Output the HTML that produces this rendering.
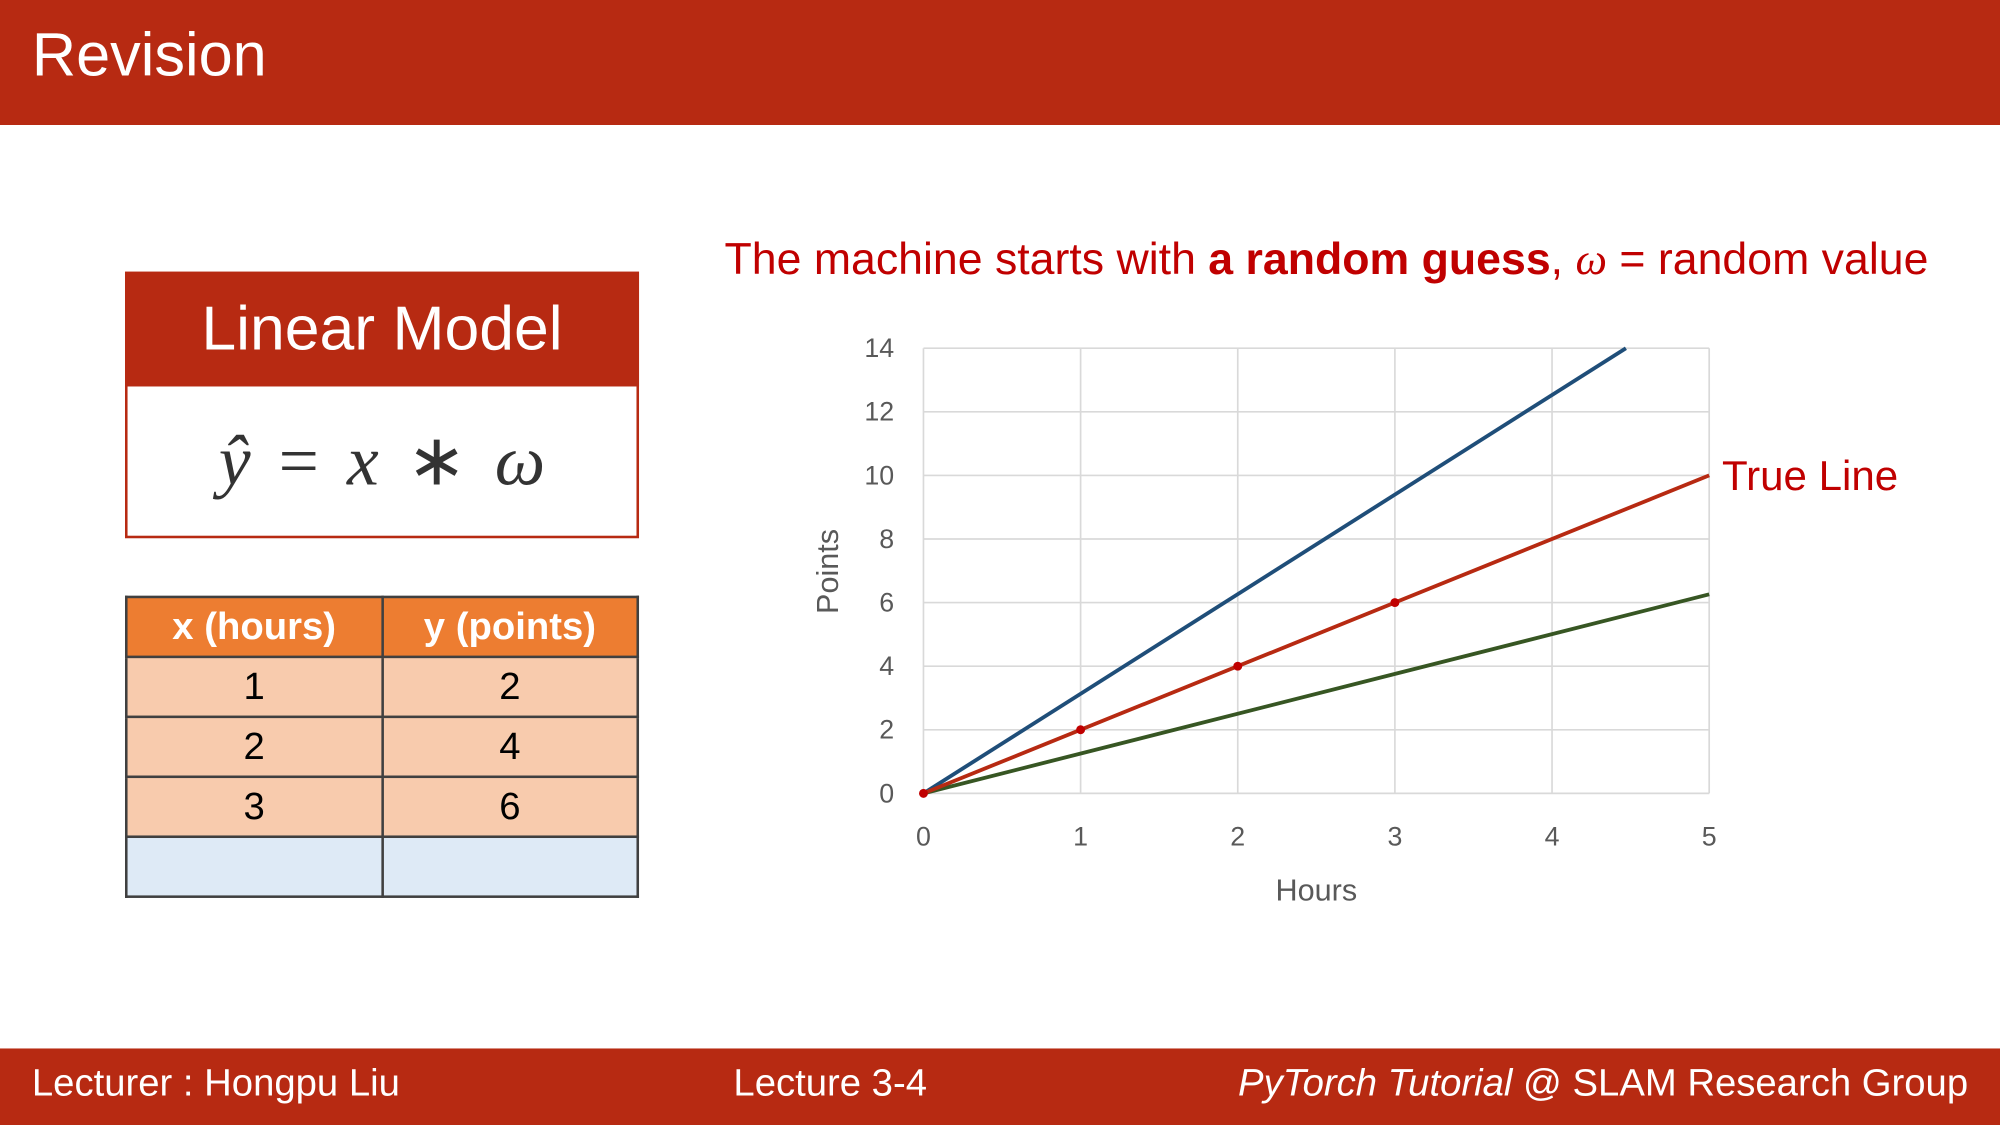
<!DOCTYPE html>
<html><head><meta charset="utf-8"><style>
html,body{margin:0;padding:0;width:2000px;height:1125px;overflow:hidden;background:#fff}
#wrap{position:absolute;left:0;top:0;width:1568px;height:882px;transform:scale(1.27551);transform-origin:0 0;font-family:"Liberation Sans",sans-serif}
.abs{position:absolute}
</style></head><body>
<div id="wrap">
<div class="abs" style="left:0;top:0;width:1568px;height:98px;background:#B72A12"></div>
<div class="abs" style="left:25px;top:16px;color:#fff;font-size:48px">Revision</div>

<div class="abs" style="left:98px;top:213px;width:399px;height:205px;border:2px solid #B72A12;background:#fff"></div>
<div class="abs" style="left:98px;top:213px;width:403px;height:90px;background:#B72A12;color:#fff;font-size:49px;text-align:center;line-height:90px">Linear Model</div>
<div class="abs" style="left:98px;top:303px;width:403px;height:118px;text-align:center;line-height:118px;font-family:'Liberation Serif',serif;font-style:italic;font-size:56px;color:#333;word-spacing:8px">ŷ <span style="font-style:normal">=</span> x <span style="font-style:normal">∗</span> ω</div>

<table class="abs" style="left:98px;top:467px;width:403px;border-collapse:collapse;font-size:30px;text-align:center">
<tr style="height:47px;background:#ED7D31;color:#fff;font-weight:bold"><td style="border:2px solid #404040;width:50%">x (hours)</td><td style="border:2px solid #404040">y (points)</td></tr>
<tr style="height:47px;background:#F8CBAD"><td style="border:2px solid #404040">1</td><td style="border:2px solid #404040">2</td></tr>
<tr style="height:47px;background:#F8CBAD"><td style="border:2px solid #404040">2</td><td style="border:2px solid #404040">4</td></tr>
<tr style="height:47px;background:#F8CBAD"><td style="border:2px solid #404040">3</td><td style="border:2px solid #404040">6</td></tr>
<tr style="height:47px;background:#DEEAF6"><td style="border:2px solid #404040"></td><td style="border:2px solid #404040"></td></tr>
</table>

<div class="abs" style="left:568px;top:184px;font-size:35px;color:#C00000;white-space:nowrap">The machine starts with <b>a random guess</b>, <i style="font-family:'Liberation Serif',serif">ω</i> = random value</div>

<svg class="abs" id="chart" style="left:0;top:0" width="1568" height="882"></svg>

<div class="abs" style="left:0;top:822px;width:1568px;height:60px;background:#B72A12"></div>
<div class="abs" style="left:25px;top:833px;color:#fff;font-size:30px">Lecturer : Hongpu Liu</div>
<div class="abs" style="left:575px;top:833px;color:#fff;font-size:30px">Lecture 3-4</div>
<div class="abs" style="right:25px;top:833px;color:#fff;font-size:30px;white-space:nowrap"><i>PyTorch Tutorial</i> @ SLAM Research Group</div>
</div>
<script>
const xTicks=[0,1,2,3,4,5];
const yTicks=[0,2,4,6,8,10,12,14];
const blueX=[0,4.47];
const blueY=[0,14];
const redX=[0,5];
const redY=[0,10];
const greenX=[0,5];
const greenY=[0,6.26];
const markX=[0,1,2,3];
const markY=[0,2,4,6];
const NS='http://www.w3.org/2000/svg';
const svg=document.getElementById('chart');
const X0=724,X1=1340,Y0=622,Y1=273;
const sx=v=>X0+(v-0)/(5-0)*(X1-X0);
const sy=v=>Y0-(v-0)/(14-0)*(Y0-Y1);
function mk(t,a){const e=document.createElementNS(NS,t);for(const k in a)e.setAttribute(k,a[k]);svg.appendChild(e);return e;}
xTicks.forEach(v=>{
 const g=mk('line',{x1:sx(v),x2:sx(v),y1:Y1,y2:Y0,stroke:'#d9d9d9','stroke-width':1.3});
 
 
 const t=mk('text',{x:sx(v),y:663,'text-anchor':'middle','font-size':21,fill:'#595959','font-family':'Liberation Sans, sans-serif'});
 t.textContent=v;
 
 
});
yTicks.forEach(v=>{
 const g=mk('line',{x1:X0,x2:X1,y1:sy(v),y2:sy(v),stroke:'#d9d9d9','stroke-width':1.3});
 
 
 const t=mk('text',{x:701,y:sy(v)+7,'text-anchor':'end','font-size':21,fill:'#595959','font-family':'Liberation Sans, sans-serif'});
 t.textContent=v;
 
 
});
function series(xs,ys,col,name){
 const l=mk('polyline',{points:xs.map((x,i)=>sx(x)+','+sy(ys[i])).join(' '),fill:'none',stroke:col,'stroke-width':3});
 
 
}
series(greenX,greenY,'#375623','green-guess-line');
series(blueX,blueY,'#1F4E79','blue-guess-line');
series(redX,redY,'#B72A12','true-line');
markX.forEach((x,i)=>{
 const c=mk('circle',{cx:sx(x),cy:sy(markY[i]),r:3.5,fill:'#C00000'});
 
 
});
const xt=mk('text',{x:1032,y:706,'text-anchor':'middle','font-size':24,fill:'#595959','font-family':'Liberation Sans, sans-serif'});
xt.textContent='Hours';


const yt=mk('text',{x:0,y:0,transform:'translate(657,448) rotate(-90)','text-anchor':'middle','font-size':24,fill:'#595959','font-family':'Liberation Sans, sans-serif'});
yt.textContent='Points';


const tl=mk('text',{x:1350,y:384,'font-size':33,fill:'#C00000','font-family':'Liberation Sans, sans-serif'});
tl.textContent='True Line';


</script>
</body></html>
